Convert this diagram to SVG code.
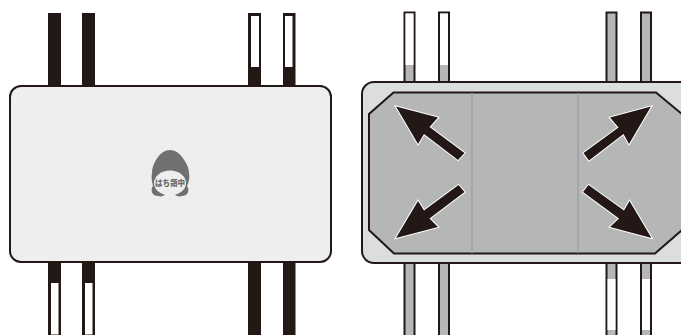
<svg xmlns="http://www.w3.org/2000/svg" width="681" height="335" viewBox="0 0 681 335">
<style>
.k{fill:#231815}
.w{fill:#fff}
.g{fill:#b5b7b6}
.bar{fill:#b5b7b6;stroke:#231815;stroke-width:2}
.arr{fill:#231815;stroke:#fff;stroke-width:2;paint-order:stroke;stroke-linejoin:miter}
.logo{fill:#6f7071}
</style>
<rect width="681" height="335" fill="#fff"/>
<g id="left-pins">
<rect class="k" x="48" y="13" width="13" height="74"/>
<rect class="k" x="82" y="13" width="13" height="74"/>
<rect class="k" x="248" y="13" width="13" height="74"/>
<rect class="w" x="251" y="16" width="8" height="51"/>
<rect class="k" x="283" y="13" width="12.500" height="74"/>
<rect class="w" x="285" y="16" width="7.500" height="51"/>
<rect class="k" x="48" y="262" width="13" height="73"/>
<rect class="w" x="51" y="283" width="7.500" height="51.500"/>
<rect class="k" x="82" y="262" width="13" height="73"/>
<rect class="w" x="85" y="283" width="7.500" height="51.500"/>
<rect class="k" x="248" y="262" width="13" height="73"/>
<rect class="k" x="283" y="262" width="12.500" height="73"/>
</g>
<g id="left-body">
<rect x="10" y="86" width="321" height="176" rx="11" fill="#eeeeee" stroke="#231815" stroke-width="2"/>
</g>
<g id="logo">
<path class="logo" d="M170 150C165 150 161 153 158 157C155 161 152 167 152 173C151 177 152 182 153 186C150 190 152 196 158 196C161 197 164 196 166 194H174C176 196 179 197 182 196C188 196 190 190 187 186C189 182 190 177 189 173C189 167 185 161 182 157C179 153 175 150 170 150Z"/>
<ellipse cx="170" cy="183" rx="16" ry="12.500" fill="#eeeeee"/>
<text x="170" y="185.500" text-anchor="middle" font-family="'Noto Sans CJK JP','Noto Sans',sans-serif" font-size="8.500" font-weight="900" fill="#6a6a6a" textLength="30" lengthAdjust="spacingAndGlyphs">はち領中</text>
</g>
<g id="right-pins">
<rect class="bar" x="404.500" y="12.500" width="10" height="72"/>
<rect class="w" x="405.500" y="13.500" width="8" height="51.500"/>
<rect class="bar" x="439" y="12.500" width="10" height="72"/>
<rect class="w" x="440" y="13.500" width="8" height="51.500"/>
<rect class="bar" x="606.500" y="12.500" width="10" height="72"/>
<rect class="bar" x="641" y="12.500" width="10" height="72"/>
<rect class="bar" x="404.500" y="263" width="10" height="73"/>
<rect class="bar" x="439" y="263" width="10" height="73"/>
<rect class="bar" x="606.500" y="263" width="10" height="73"/>
<rect class="w" x="607.500" y="279" width="8" height="51"/>
<rect class="bar" x="641" y="263" width="10" height="73"/>
<rect class="w" x="642" y="279" width="8" height="51"/>
</g>
<g id="right-body">
<rect x="362" y="82" width="330" height="181" rx="12" fill="#dcdddd" stroke="#231815" stroke-width="2"/>
<path d="M393.500 92.500H656L682 114V230L655 253.500H394L369 230V114Z" class="g" stroke="#231815" stroke-width="2"/>
<path d="M472 93V253M578 93V253" stroke="#9fa0a0" stroke-width="1.500" fill="none"/>
</g>
<g id="arrows">
<path class="arr" d="M396 106.500L438 117.500L429.500 127L464.500 153L458 160L424 134L418 144Z"/>
<path class="arr" d="M651 106.500L610 117.500L618.500 127.500L583.500 153L589 160.500L623.500 134L629 144Z"/>
<path class="arr" d="M396 238L438 227L429.500 218.500L464.500 192L458.500 185L424 210.500L418 201Z"/>
<path class="arr" d="M651.500 238L610 227L619 218.500L583 192L588.500 185L624 210.500L629.500 201Z"/>
</g>
</svg>
